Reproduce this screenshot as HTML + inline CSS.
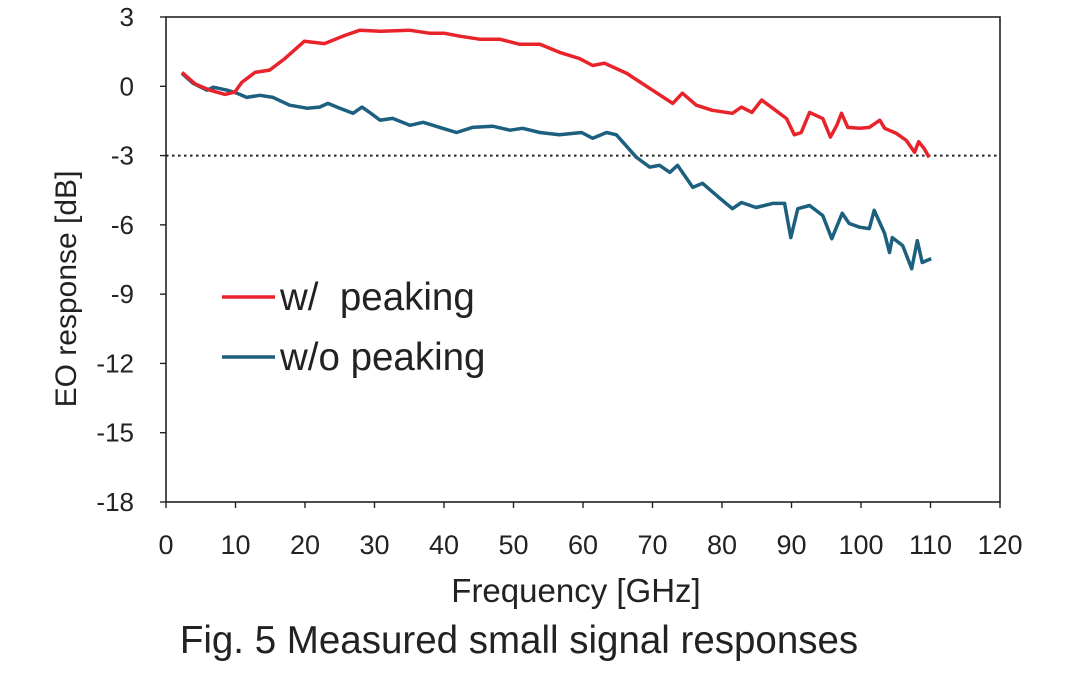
<!DOCTYPE html>
<html><head><meta charset="utf-8"><style>
body{margin:0;background:#fff;}
svg{display:block;font-family:"Liberation Sans",Arial,sans-serif;}
</style></head><body>
<svg id="chart" width="1080" height="687" viewBox="0 0 1080 687">
<rect x="0" y="0" width="1080" height="687" fill="#fff"/>
<g id="grid"></g>
<g id="series"></g>
<rect x="166" y="17" width="834" height="485" fill="none" stroke="#222" stroke-width="1.6"/>
<g id="ticks"></g>
<text x="576" y="602" font-size="33" text-anchor="middle" fill="#222">Frequency [GHz]</text>
<text transform="translate(76,289) rotate(-90)" font-size="30" text-anchor="middle" fill="#222">EO response [dB]</text>
<g>
<line x1="222" y1="297" x2="275" y2="297" stroke="#e8232a" stroke-width="3.5"/>
<text x="280" y="310" font-size="38.5" fill="#222" xml:space="preserve">w/  peaking</text>
<line x1="222" y1="357" x2="275" y2="357" stroke="#1d5f7f" stroke-width="3.5"/>
<text x="280" y="370" font-size="38.5" fill="#222">w/o peaking</text>
</g>
<text x="519" y="653" font-size="38.5" text-anchor="middle" fill="#222">Fig. 5 Measured small signal responses</text>
</svg>
<script>
const xTicks=[0,10,20,30,40,50,60,70,80,90,100,110,120];
const yTicks=[3,0,-3,-6,-9,-12,-15,-18];
const refLevel=-3;
const peakF=[2.3,4.2,6.3,8.5,9.9,10.9,12.8,14.9,17.1,19.9,22.8,25.7,27.9,30.8,35,37.9,40,42.3,45.1,48,50.9,53.8,56.6,59.5,61.4,63.1,66.3,70,72.9,74.3,76.3,78.6,81.5,82.8,84.3,85.7,87.3,89.3,90.4,91.4,92.6,94.5,95.6,96.5,97.2,98.1,99.8,101.2,102.7,103.4,105.1,106.5,107.7,108.3,109.1,109.8];
const peakV=[0.6,0.1,-0.17,-0.35,-0.25,0.17,0.6,0.7,1.2,1.95,1.85,2.2,2.43,2.38,2.43,2.3,2.3,2.17,2.04,2.04,1.82,1.82,1.47,1.2,0.9,1.0,0.56,-0.17,-0.74,-0.3,-0.82,-1.04,-1.17,-0.9,-1.13,-0.6,-0.95,-1.4,-2.1,-2.0,-1.13,-1.4,-2.2,-1.7,-1.17,-1.78,-1.82,-1.78,-1.47,-1.82,-2.04,-2.34,-2.86,-2.4,-2.7,-3.08];
const noPeakF=[2.3,3.9,5.9,6.8,8.8,10.2,11.6,13.5,15.4,17.8,20.3,22.1,23.3,25,26.9,28.2,29.3,30.8,32.6,35.1,37,39.8,41.8,44.1,47,49.5,51.3,53.8,56.6,59.8,61.4,63.4,64.8,67.7,69.6,71,72.5,73.6,75.8,77.2,79.7,81.5,82.8,84.9,87.3,89,89.9,90.9,92.6,94.5,95.8,97.3,98.3,99.8,101.2,101.9,103.4,104.1,104.5,106,107.3,108.1,108.8,110.1];
const noPeakV=[0.56,0.13,-0.17,-0.04,-0.17,-0.3,-0.48,-0.39,-0.48,-0.82,-0.95,-0.9,-0.74,-0.95,-1.17,-0.9,-1.13,-1.47,-1.39,-1.69,-1.56,-1.82,-2.0,-1.78,-1.73,-1.9,-1.82,-2.0,-2.1,-2.0,-2.25,-2.0,-2.1,-3.08,-3.5,-3.42,-3.73,-3.42,-4.38,-4.2,-4.85,-5.3,-5.03,-5.25,-5.07,-5.07,-6.55,-5.3,-5.16,-5.6,-6.6,-5.5,-5.94,-6.1,-6.16,-5.37,-6.37,-7.2,-6.55,-6.9,-7.9,-6.68,-7.63,-7.46];

const NS='http://www.w3.org/2000/svg';
const X0=166,X1=1000,Y0=502,Y1=17;
const xs=f=>X0+(f-0)/(120-0)*(X1-X0);
const ys=v=>Y0-(v-(-18))/(3-(-18))*(Y0-Y1);
function mk(tag,attrs,parent){const e=document.createElementNS(NS,tag);for(const k in attrs)e.setAttribute(k,attrs[k]);parent.appendChild(e);return e;}
const ticks=document.getElementById('ticks'),grid=document.getElementById('grid'),series=document.getElementById('series');
xTicks.forEach(t=>{
  const tl=mk('line',{x1:xs(t),x2:xs(t),y1:Y0,y2:Y0+6,stroke:'#222','stroke-width':1.4},ticks);
  
  
  const tx=mk('text',{x:xs(t),y:554,'font-size':27,'text-anchor':'middle',fill:'#222'},ticks);
  tx.textContent=t;
  
  
});
yTicks.forEach(t=>{
  const tl=mk('line',{x1:X0-6,x2:X0,y1:ys(t),y2:ys(t),stroke:'#222','stroke-width':1.4},ticks);
  
  
  const tx=mk('text',{x:134,y:ys(t)+9,'font-size':26,'text-anchor':'end',fill:'#222'},ticks);
  tx.textContent=t;
  
  
});
const ref=mk('line',{x1:X0,x2:X1,y1:ys(refLevel),y2:ys(refLevel),stroke:'#222','stroke-width':2,'stroke-dasharray':'2.5 3.5'},grid);


function line(F,V,color,name){
  const d=F.map((f,i)=>(i?'L':'M')+xs(f).toFixed(1)+' '+ys(V[i]).toFixed(1)).join(' ');
  const p=mk('path',{d:d,fill:'none',stroke:color,'stroke-width':3.5,'stroke-linejoin':'round'},series);
  
  
}
line(noPeakF,noPeakV,'#1d5f7f','series-without-peaking');
line(peakF,peakV,'#e8232a','series-with-peaking');
</script>
</body></html>
